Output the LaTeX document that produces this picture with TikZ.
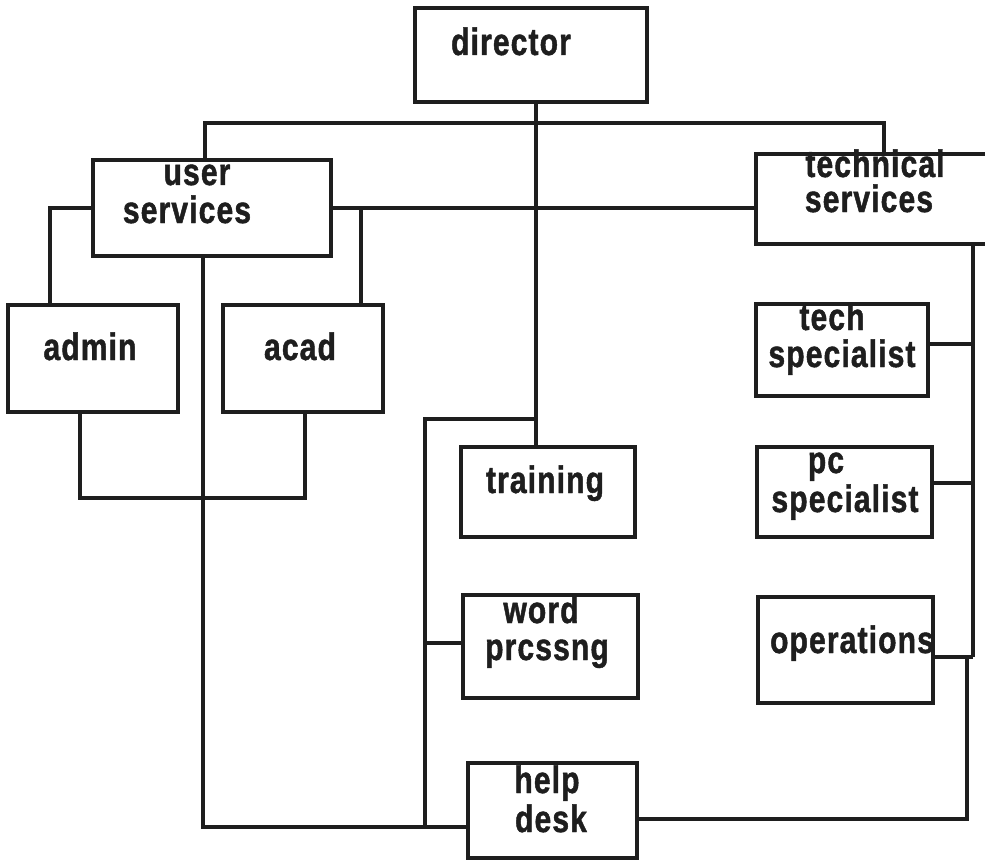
\documentclass[tikz,border=0pt]{standalone}
\usepackage{fontspec}
\newfontfamily\orgfont{Liberation Sans}[FakeStretch=0.79, LetterSpace=3, BoldFeatures={FakeBold=1.2}]
\definecolor{ink}{HTML}{1E1E1E}
\begin{document}
\begin{tikzpicture}[x=1pt,y=-1pt,
  box/.style={draw=ink, line width=4.2pt, rectangle, inner sep=0pt},
  conn/.style={draw=ink, line width=4.2pt},
  lbl/.style={anchor=base, inner sep=0pt, text=ink,
    font=\orgfont\bfseries\fontsize{38}{38}\selectfont}]
\useasboundingbox[fill=white] (0,0) rectangle (985,861);
% boxes
\node[box, minimum width=232pt, minimum height=94pt] (director) at (531,55) {};
\node[box, minimum width=238pt, minimum height=96pt] (user) at (212,208) {};
\node[box, minimum width=239pt, minimum height=90pt] (tech) at (875.5,199) {};
\node[box, minimum width=170pt, minimum height=107pt] (admin) at (93,358.5) {};
\node[box, minimum width=160pt, minimum height=107pt] (acad) at (303,358.5) {};
\node[box, minimum width=172pt, minimum height=92pt] (techspec) at (842,350) {};
\node[box, minimum width=174pt, minimum height=90pt] (training) at (548,492) {};
\node[box, minimum width=175pt, minimum height=103pt] (word) at (550.5,646.5) {};
\node[box, minimum width=175pt, minimum height=90pt] (pcspec) at (844.5,492) {};
\node[box, minimum width=175pt, minimum height=106pt] (ops) at (845.5,650) {};
\node[box, minimum width=169pt, minimum height=95pt] (help) at (552.5,810.5) {};
% labels
\node[lbl] (tdirector) at (511,55) {director};
\node[lbl] (tuser1) at (197,185) {user};
\node[lbl] (tuser2) at (187,223) {services};
\node[lbl] (ttech1) at (875,177) {technical};
\node[lbl] (ttech2) at (869,212) {services};
\node[lbl] (tadmin) at (90,360) {admin};
\node[lbl] (tacad) at (300,360) {acad};
\node[lbl] (tts1) at (832,330) {tech};
\node[lbl] (tts2) at (842,367) {specialist};
\node[lbl] (ttraining) at (545,493) {training};
\node[lbl] (tword1) at (541,623) {word};
\node[lbl] (tword2) at (547,660) {prcssng};
\node[lbl] (tpc1) at (826,473) {pc};
\node[lbl] (tpc2) at (845,512) {specialist};
\node[lbl] (tops) at (852,653) {operations};
\node[lbl] (thelp1) at (547,793) {help};
\node[lbl] (thelp2) at (551,832) {desk};
% junction coordinates
\coordinate (j1) at (205,123);
\coordinate (j2) at (884,123);
\coordinate (a1) at (50,208);
\coordinate (a2) at (361,208);
\coordinate (b1) at (80,498);
\coordinate (b2) at (305,498);
\coordinate (c1) at (203,827);
\coordinate (d1) at (425,419);
\coordinate (d2) at (536,419);
\coordinate (d3) at (425,643);
\coordinate (e1) at (973,657);
\coordinate (e2) at (973,344);
\coordinate (e3) at (973,483);
\coordinate (f1) at (967,657);
\coordinate (f2) at (967,819);
% connectors
\draw[conn] (director.south -| d2) -- (training.north -| d2);
\draw[conn] (user.north -| j1) -- (j1) -- (j2) -- (tech.north -| j2);
\draw[conn] (user.west) -- (a1) -- (admin.north -| a1);
\draw[conn] (user.east) -- (tech.west |- user.east);
\draw[conn] (a2) -- (acad.north -| a2);
\draw[conn] (admin.south -| b1) -- (b1) -- (b2) -- (acad.south -| b2);
\draw[conn] (user.south -| c1) -- (c1) -- (help.west |- c1);
\draw[conn] (d2) -- (d1) -- (d1 |- c1);
\draw[conn] (d3) -- (word.west |- d3);
\draw[conn] (tech.south -| e1) -- (e1);
\draw[conn] (techspec.east |- e2) -- (e2);
\draw[conn] (pcspec.east |- e3) -- (e3);
\draw[conn] (ops.east |- e1) -- (e1);
\draw[conn] (f1) -- (f2) -- (help.east |- f2);
\end{tikzpicture}
\end{document}
